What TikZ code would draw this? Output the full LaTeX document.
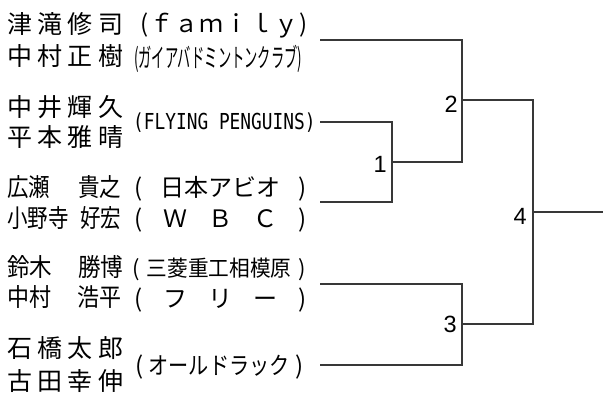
\documentclass[tikz,border=0pt]{standalone}
\usepackage{fontspec}
\usepackage{graphicx}
\setmainfont{Liberation Sans}
\newfontfamily\jp{Noto Sans CJK JP}
\newfontfamily\monof{DejaVu Sans Mono}
\newcommand\hsc[2]{\scalebox{#1}[1]{#2}}
\begin{document}
\begin{tikzpicture}[x=1pt,y=-1pt,
  pname/.style={anchor=base west, inner sep=0pt, font=\jp\fontsize{25}{25}\selectfont},
  tname/.style={anchor=base west, inner sep=0pt, font=\jp\fontsize{24}{24}\selectfont},
  numlbl/.style={anchor=base east, inner sep=0pt, font=\fontsize{23.5}{23.5}\selectfont},
  br/.style={draw=black!78, line width=1.1pt}]
\useasboundingbox (0,0) rectangle (603,392);
% names
\node[pname] (n1) at (7,33) {\makebox[116pt][s]{津\hfil 滝\hfil 修\hfil 司}};
\node[pname] (n2) at (7,65) {\makebox[116pt][s]{中\hfil 村\hfil 正\hfil 樹}};
\node[pname] (n3) at (7,116) {\makebox[116pt][s]{中\hfil 井\hfil 輝\hfil 久}};
\node[pname] (n4) at (7,146) {\makebox[116pt][s]{平\hfil 本\hfil 雅\hfil 晴}};
\node[pname] (n5) at (7,196) {\makebox[114pt][s]{\hsc{0.86}{広瀬}\hfil\hsc{0.86}{貴之}}};
\node[pname] (n6) at (7,227) {\makebox[114pt][s]{\hsc{0.82}{小野寺}\hfil\hsc{0.82}{好宏}}};
\node[pname] (n7) at (7,276) {\makebox[116pt][s]{\hsc{0.9}{鈴木}\hfil\hsc{0.9}{勝博}}};
\node[pname] (n8) at (7,306) {\makebox[114pt][s]{\hsc{0.88}{中村}\hfil\hsc{0.88}{浩平}}};
\node[pname] (n9) at (7,357) {\makebox[116pt][s]{石\hfil 橋\hfil 太\hfil 郎}};
\node[pname] (n10) at (7,390) {\makebox[116pt][s]{古\hfil 田\hfil 幸\hfil 伸}};
% teams
\node[tname] (t1) at (140,32) {\makebox[167pt][s]{(\hfil ｆ\hfil ａ\hfil ｍ\hfil ｉ\hfil ｌ\hfil ｙ\hfil )}};
\node[tname,font=\jp\fontsize{26}{26}\selectfont] (t2) at (134,67) {\hsc{0.51}{(ガイアバドミントンクラブ)}};
\node[tname,font=\monof\fontsize{22}{22}\selectfont] (t3) at (133,129) {\hsc{0.81}{(FLYING PENGUINS)}};
\node[tname] (t5) at (134,196) {\makebox[172pt][s]{(\hfil 日本アビオ\hfil )}};
\node[tname] (t6) at (134,227) {\makebox[172pt][s]{(\hfil Ｗ\hfil Ｂ\hfil Ｃ\hfil )}};
\node[tname,font=\jp\fontsize{22}{22}\selectfont] (t7) at (132,276) {\makebox[174pt][s]{(\hfil \hsc{0.94}{三菱重工相模原}\hfil )}};
\node[tname] (t8) at (134,307) {\makebox[172pt][s]{(\hfil フ\hfil リ\hfil ー\hfil )}};
\node[tname] (t9) at (135,374) {\makebox[168pt][s]{(\hfil \hsc{0.84}{オールドラック}\hfil )}};
% bracket points
\coordinate (e1) at (320,40);
\coordinate (e2) at (320,122);
\coordinate (e3) at (320,202);
\coordinate (e4) at (320,284);
\coordinate (e5) at (320,365);
\coordinate (m1) at (392,162);
\coordinate (m2) at (462,100);
\coordinate (m3) at (462,324);
\coordinate (m4) at (533,212);
\coordinate (w) at (603,212);
\draw[br] (e2) -| (m1);
\draw[br] (e3) -| (m1);
\draw[br] (e1) -| (m2);
\draw[br] (m1) -| (m2);
\draw[br] (e4) -| (m3);
\draw[br] (e5) -| (m3);
\draw[br] (m2) -| (m4);
\draw[br] (m3) -| (m4);
\draw[br] (m4) -- (w);
% match numbers
\node[numlbl] (l1) at (387,172) {1};
\node[numlbl] (l2) at (458,112) {2};
\node[numlbl] (l3) at (457,332) {3};
\node[numlbl] (l4) at (527,224) {4};
\end{tikzpicture}
\end{document}
